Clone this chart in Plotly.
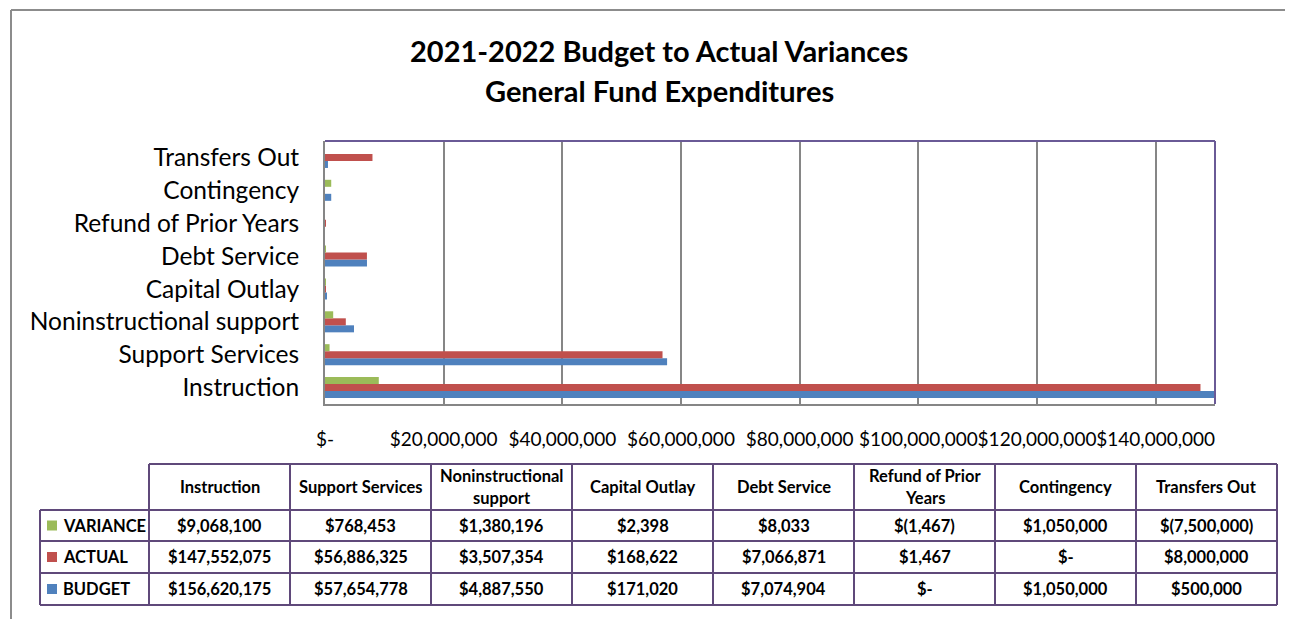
import textwrap
import plotly.graph_objects as go

# ---------------- data ----------------
CATEGORIES = ["Instruction", "Support Services", "Noninstructional support", "Capital Outlay",
              "Debt Service", "Refund of Prior Years", "Contingency", "Transfers Out"]
BUDGET = [156620175, 57654778, 4887550, 171020, 7074904, 0, 1050000, 500000]
ACTUAL = [147552075, 56886325, 3507354, 168622, 7066871, 1467, 0, 8000000]
VARIANCE = [9068100, 768453, 1380196, 2398, 8033, -1467, 1050000, -7500000]
SERIES_NAMES = ["BUDGET", "ACTUAL", "VARIANCE"]
XTICK_VALUES = [0, 20000000, 40000000, 60000000, 80000000, 100000000, 120000000, 140000000]
XTICK_LABELS = ["$-", "$20,000,000", "$40,000,000", "$60,000,000", "$80,000,000",
                "$100,000,000", "$120,000,000", "$140,000,000"]
TITLE_LINES = ["2021-2022 Budget to Actual Variances", "General Fund Expenditures"]

# ---------------- style ----------------
OFF = 8  # default page body margin
W, H = 1293 - 2 * OFF, 627 - 2 * OFF
COLORS = {"BUDGET": "#4f81bd", "ACTUAL": "#c0504d", "VARIANCE": "#9bbb59"}
GRID = "#868686"
PURPLE = "#5f497a"
PLOT_BORDER = "#6a5a96"
FONT = "Lato"


def px(x):
    return (x - OFF) / W


def py(y):
    return 1 - (y - OFF) / H


def money(v):
    if v == 0:
        return "$-"
    if v < 0:
        return "$({:,})".format(-v)
    return "${:,}".format(v)


series_values = {"BUDGET": BUDGET, "ACTUAL": ACTUAL, "VARIANCE": VARIANCE}

fig = go.Figure()
for name in SERIES_NAMES:
    fig.add_trace(go.Bar(
        y=CATEGORIES, x=series_values[name], name=name, orientation="h",
        marker=dict(color=COLORS[name], line=dict(width=0)),
        showlegend=False,
    ))

PL, PR, PT, PB = 325, 1215, 141, 404

fig.update_layout(
    width=W, height=H,
    margin=dict(l=0, r=0, t=0, b=0),
    paper_bgcolor="white", plot_bgcolor="white",
    barmode="group", bargap=0.36, bargroupgap=0,
    font=dict(family=FONT, color="black"),
    xaxis=dict(
        domain=[px(PL), px(PR)], range=[0, 150000000],
        tickvals=XTICK_VALUES, ticktext=XTICK_LABELS, tickangle=0,
        showgrid=True, gridcolor=GRID, gridwidth=2,
        showline=True, linecolor=GRID, linewidth=2,
        zeroline=False, ticks="", tickfont=dict(size=19, family=FONT),
        ticklabelstandoff=17, fixedrange=True, automargin=False,
    ),
    yaxis=dict(
        domain=[py(PB), py(PT)],
        categoryorder="array", categoryarray=CATEGORIES,
        showgrid=False, showline=True, linecolor=GRID, linewidth=2,
        ticks="", tickfont=dict(size=24.5, family=FONT),
        ticklabelstandoff=19, fixedrange=True, automargin=False,
    ),
)

shapes = []
annotations = []

# outer chart frame (top and left)
shapes.append(dict(type="line", xref="paper", yref="paper", x0=px(11), x1=1, y0=py(10), y1=py(10),
                   line=dict(color="#8c8c8c", width=2)))
shapes.append(dict(type="line", xref="paper", yref="paper", x0=px(11), x1=px(11), y0=py(10), y1=0,
                   line=dict(color="#8c8c8c", width=2)))

# plot border top / right
shapes.append(dict(type="line", xref="paper", yref="paper", x0=px(PL), x1=px(PR), y0=py(PT), y1=py(PT),
                   line=dict(color=PLOT_BORDER, width=2)))
shapes.append(dict(type="line", xref="paper", yref="paper", x0=px(PR), x1=px(PR), y0=py(PT), y1=py(PB),
                   line=dict(color=PLOT_BORDER, width=2)))

# title (one annotation per line)
for t, ty in zip(TITLE_LINES, [51, 90]):
    annotations.append(dict(
        xref="paper", yref="paper", x=px(659), y=py(ty), xanchor="center", yanchor="middle",
        text="<b>%s</b>" % t, showarrow=False,
        font=dict(size=29, family=FONT, color="black"),
    ))

# ---------------- data table ----------------
TL = 40          # left of label column
C0 = 149         # first value column left
CW = 141         # column width
TR = C0 + CW * len(CATEGORIES)
HT = 464         # header top
ROWS = [510, 541, 573, 605]  # data row boundaries
TLINE = dict(color=PURPLE, width=2)

shapes.append(dict(type="line", xref="paper", yref="paper", x0=px(C0), x1=px(TR), y0=py(HT), y1=py(HT), line=TLINE))
for yb in ROWS:
    shapes.append(dict(type="line", xref="paper", yref="paper", x0=px(TL), x1=px(TR), y0=py(yb), y1=py(yb), line=TLINE))
shapes.append(dict(type="line", xref="paper", yref="paper", x0=px(TL), x1=px(TL), y0=py(ROWS[0]), y1=py(ROWS[-1]), line=TLINE))
for i in range(len(CATEGORIES) + 1):
    xv = C0 + i * CW
    shapes.append(dict(type="line", xref="paper", yref="paper", x0=px(xv), x1=px(xv), y0=py(HT), y1=py(ROWS[-1]), line=TLINE))

tfont = dict(size=16.5, family=FONT, color="black")
for i, cat in enumerate(CATEGORIES):
    cx = C0 + i * CW + CW / 2
    lines = textwrap.wrap(cat, 16)
    if len(lines) == 1:
        annotations.append(dict(xref="paper", yref="paper", x=px(cx), y=py((HT + ROWS[0]) / 2),
                                xanchor="center", yanchor="middle", text="<b>%s</b>" % lines[0],
                                showarrow=False, font=tfont))
    else:
        for ln, ly in zip(lines, [476, 498]):
            annotations.append(dict(xref="paper", yref="paper", x=px(cx), y=py(ly),
                                    xanchor="center", yanchor="middle", text="<b>%s</b>" % ln,
                                    showarrow=False, font=tfont))

row_order = ["VARIANCE", "ACTUAL", "BUDGET"]
for r, name in enumerate(row_order):
    y0, y1 = ROWS[r], ROWS[r + 1]
    cy = (y0 + y1) / 2
    shapes.append(dict(type="rect", xref="paper", yref="paper",
                       x0=px(47), x1=px(57), y0=py(cy - 5), y1=py(cy + 5),
                       fillcolor=COLORS[name], line=dict(width=0)))
    annotations.append(dict(xref="paper", yref="paper", x=px(61), y=py(cy),
                            xanchor="left", yanchor="middle", text="<b>%s</b>" % name,
                            showarrow=False, font=tfont))
    for i, v in enumerate(series_values[name]):
        cx = C0 + i * CW + CW / 2
        annotations.append(dict(xref="paper", yref="paper", x=px(cx), y=py(cy),
                                xanchor="center", yanchor="middle", text="<b>%s</b>" % money(v),
                                showarrow=False, font=tfont))

fig.update_layout(shapes=shapes, annotations=annotations)
fig.write_html("out.html")
